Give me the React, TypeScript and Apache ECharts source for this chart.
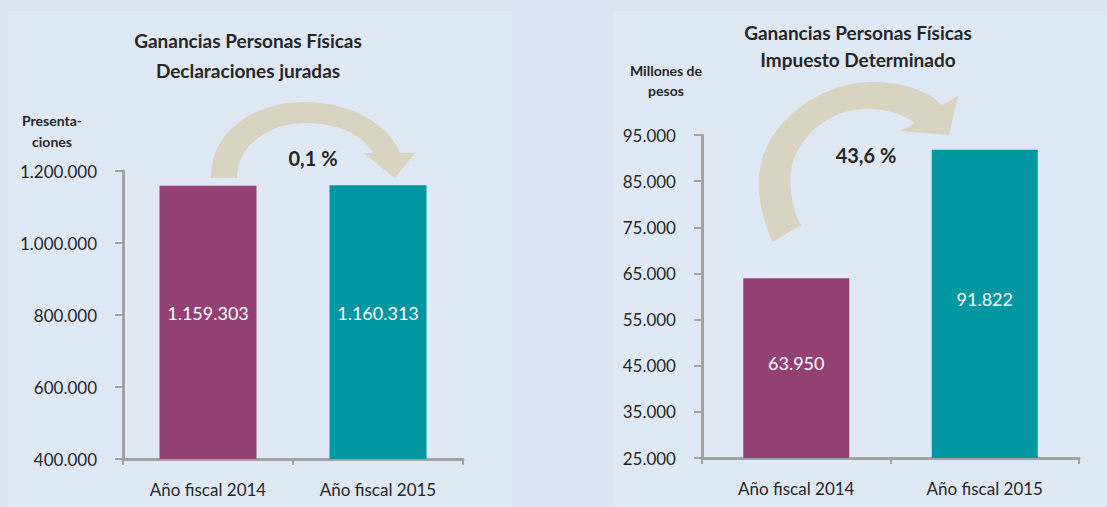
import React, { useEffect, useRef } from "react";
import * as echarts from "echarts";

const categories = ["Año fiscal 2014", "Año fiscal 2015"];
const declaraciones = [1159303, 1160313];
const impuesto = [63950, 91822];
const barColors = ["#934173", "#0096A2"];
const leftTitle = "Ganancias Personas Físicas\nDeclaraciones juradas";
const rightTitle = "Ganancias Personas Físicas\nImpuesto Determinado";
const leftAxisName = "Presenta-\nciones";
const rightAxisName = "Millones de\npesos";
const leftChange = "0,1 %";
const rightChange = "43,6 %";

const fmt = (v: number) => String(v).replace(/\B(?=(\d{3})+(?!\d))/g, ".");

const leftArrowPath =
  "M 211 178 C 211 130 255 102 305 102 C 350 102 390 125 400 153 L 415 153 L 395 178 L 363 153 L 373 153 C 362 133 335 123 305 123 C 270 123 237 145 237 178 Z";
const rightArrowPath =
  "M 773 242 C 760 215 755 185 762 160 C 775 115 825 82 873 82 C 905 82 930 92 942 105 L 958 96 L 949 135 L 900 131 L 915 123 C 900 112 885 109 867 109 C 830 109 800 135 792 165 C 788 185 792 210 801 225 Z";

let registered = false;
function registerShapes() {
  if (registered) return;
  echarts.graphic.registerShape("arrowLeft", echarts.graphic.extendPath(leftArrowPath, {}) as any);
  echarts.graphic.registerShape("arrowRight", echarts.graphic.extendPath(rightArrowPath, {}) as any);
  registered = true;
}

const FONT = "Lato, 'Open Sans', sans-serif";
const AXIS_COLOR = "#A3A3A3";
const TEXT_COLOR = "#262626";

export default function App() {
  const ref = useRef<HTMLDivElement>(null);
  useEffect(() => {
    if (!ref.current) return;
    registerShapes();
    const chart = echarts.init(ref.current, undefined, { renderer: "svg" });
    const xAxisCommon = (gridIndex: number) => ({
      type: "category" as const,
      gridIndex,
      data: categories,
      axisLine: { lineStyle: { color: AXIS_COLOR, width: 3 } },
      axisTick: { show: true, length: 6, lineStyle: { color: AXIS_COLOR, width: 2 } },
      axisLabel: { color: TEXT_COLOR, fontSize: 17, fontFamily: FONT, margin: 22 },
    });
    const yAxisCommon = (gridIndex: number, min: number, max: number, interval: number) => ({
      type: "value" as const,
      gridIndex,
      min,
      max,
      interval,
      axisLine: { show: true, lineStyle: { color: AXIS_COLOR, width: 3 } },
      axisTick: { show: true, length: 8, lineStyle: { color: AXIS_COLOR, width: 2 } },
      splitLine: { show: false },
      axisLabel: {
        color: TEXT_COLOR,
        fontSize: 17,
        fontFamily: FONT,
        margin: 26,
        formatter: (v: number) => fmt(v),
      },
    });
    const textEl = (text: string, x: number, y: number, size: number, lh: number) => ({
      type: "text",
      x,
      y,
      z: 10,
      style: {
        text,
        align: "center",
        verticalAlign: "middle",
        fill: TEXT_COLOR,
        font: `bold ${size}px ${FONT}`,
        lineHeight: lh,
      },
    });
    chart.setOption({
      animation: false,
      backgroundColor: "#DCE3F2",
      grid: [
        { left: 123, right: 644, top: 171, bottom: 48 },
        { left: 702, right: 28, top: 135, bottom: 49 },
      ],
      xAxis: [xAxisCommon(0), xAxisCommon(1)],
      yAxis: [yAxisCommon(0, 400000, 1200000, 200000), yAxisCommon(1, 25000, 95000, 10000)],
      series: [
        {
          type: "bar",
          xAxisIndex: 0,
          yAxisIndex: 0,
          barWidth: 97,
          data: declaraciones.map((v, i) => ({ value: v, itemStyle: { color: barColors[i] } })),
          label: {
            show: true,
            position: "inside",
            offset: [0, -9],
            color: "#FFFFFF",
            fontSize: 18,
            fontFamily: FONT,
            formatter: (p: any) => fmt(p.value),
          },
        },
        {
          type: "bar",
          xAxisIndex: 1,
          yAxisIndex: 1,
          barWidth: 106,
          data: impuesto.map((v, i) => ({ value: v, itemStyle: { color: barColors[i] } })),
          label: {
            show: true,
            position: "inside",
            offset: [0, -5],
            color: "#FFFFFF",
            fontSize: 18,
            fontFamily: FONT,
            formatter: (p: any) => fmt(p.value),
          },
        },
      ],
      graphic: [
        { type: "rect", z: -10, silent: true, shape: { x: 8, y: 11, width: 504, height: 496 }, style: { fill: "#DFE9F5" } },
        { type: "rect", z: -10, silent: true, shape: { x: 613, y: 11, width: 494, height: 496 }, style: { fill: "#DFE9F5" } },
        { type: "arrowLeft", x: 0, y: 0, z: 1, style: { fill: "#D9D3C2" } },
        { type: "arrowRight", x: 0, y: 0, z: 1, style: { fill: "#D9D3C2" } },
        textEl(leftTitle, 248, 55, 19, 30),
        textEl(rightTitle, 858, 46, 19, 27),
        textEl(leftAxisName, 52, 131, 14, 21),
        textEl(rightAxisName, 666, 80, 14, 20),
        textEl(leftChange, 313, 158, 20, 22),
        textEl(rightChange, 866, 155, 20, 22),
      ],
    });
    return () => chart.dispose();
  }, []);
  return (
    <div
      ref={ref}
      style={{ position: "fixed", left: 0, top: 0, width: 1107, height: 507 }}
    />
  );
}
